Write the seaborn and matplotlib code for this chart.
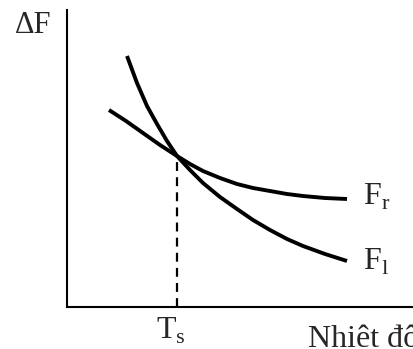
import numpy as np
import pandas as pd
import seaborn as sns
import matplotlib
matplotlib.use("Agg")
import matplotlib.pyplot as plt

# đường cong F_l (dốc) và F_r (thoải)
fl_x = [60, 70, 80, 90, 100, 110, 123, 136, 153, 170, 186, 203, 220, 236, 258, 280]
fl_y = [251, 224, 201, 183, 166, 151, 137, 124, 110, 98, 87, 77, 68, 61, 53, 46]
fr_x = [42, 59, 76, 93, 110, 123, 136, 153, 170, 186, 203, 220, 236, 258, 280]
fr_y = [197, 186, 174, 162, 151, 143, 136, 129, 123, 119, 116, 113, 111, 109, 108]
ts_x = 110
ts_y = 151

df = pd.concat([
    pd.DataFrame({"T": fl_x, "F": fl_y, "pha": "l"}),
    pd.DataFrame({"T": fr_x, "F": fr_y, "pha": "r"}),
])

sns.set_style("white")
plt.rcParams["font.family"] = ["Liberation Serif", "DejaVu Serif"]
plt.rcParams["mathtext.fontset"] = "custom"
plt.rcParams["mathtext.rm"] = "Liberation Serif"

fig = plt.figure(figsize=(4.14, 3.49), dpi=100)
ax = fig.add_axes([67 / 414, 42 / 349, 347 / 414, 297 / 349])
sns.lineplot(data=df, x="T", y="F", units="pha", estimator=None, sort=False,
             color="black", linewidth=2.8, ax=ax,
             solid_joinstyle="round", solid_capstyle="butt")
ax.plot([ts_x, ts_x], [0, ts_y], color="black", linewidth=1.6, linestyle=(0, (4, 2.8)))

ax.set_xlim(0, 347)
ax.set_ylim(0, 297)
ax.set_xticks([])
ax.set_yticks([])
ax.set_xlabel("")
ax.set_ylabel("")
sns.despine(ax=ax)
for s in ["left", "bottom"]:
    ax.spines[s].set_linewidth(1.5)
    ax.spines[s].set_color("black")

fig.text(15 / 414, 1 - 33 / 349, "ΔF", fontsize=22, va="baseline")
fig.text(156 / 414, 1 - 339 / 349, r"T$_{\mathrm{s}}$", fontsize=23, va="baseline")
fig.text(308 / 414, 1 - 347 / 349, "Nhiêt độ", fontsize=23, va="baseline")
fig.text(363 / 414, 1 - 205 / 349, r"F$_{\mathrm{r}}$", fontsize=23, va="baseline")
fig.text(363 / 414, 1 - 270 / 349, r"F$_{\mathrm{l}}$", fontsize=23, va="baseline")

fig.savefig("out.png", dpi=100)
